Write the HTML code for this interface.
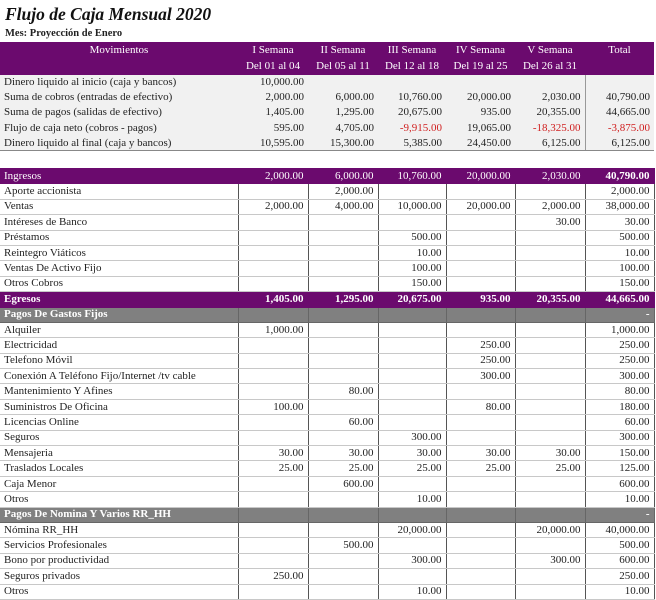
<!DOCTYPE html>
<html><head><meta charset="utf-8"><style>
*{margin:0;padding:0;box-sizing:border-box}
body{width:656px;height:600px;background:#fff;font-family:"Liberation Serif",serif;font-size:11px;color:#222;position:relative;overflow:hidden}
.t{position:absolute;left:5px;top:4px;font-size:17.5px;font-style:italic;font-weight:bold;color:#111}
.m{position:absolute;left:5px;top:28px;font-size:10.5px;font-weight:bold}
table{position:absolute;left:0;border-collapse:collapse;table-layout:fixed;width:654px}
td{padding:0 4px;white-space:nowrap;overflow:hidden;text-align:right;line-height:13px;vertical-align:middle}
td:first-child{text-align:left}
#h{top:42px}
#h td{background:#6b0a6e;color:#fff;text-align:center;height:16.5px}
#s{top:75px}
#s td{background:#f1f1f1;height:15.2px}
#s td:nth-child(6){border-right:1px solid #999}
#s tr:last-child td{border-bottom:1px solid #888}
#d{top:168px}
#d td{height:15.4px;border:1px solid #c8c8c8;border-left:1px solid #555;border-right:1px solid #555}
#d td:first-child{border-left:none}
#d tr.p td{background:#6b0a6e;color:#fff;border-color:#6b0a6e}
#d tr.p td:last-child{font-weight:bold}
#d tr.g td{background:#808080;color:#fff;font-weight:bold;border-color:#666}
.r{color:#d02020}
</style></head><body>
<div class="t">Flujo de Caja Mensual 2020</div>
<div class="m">Mes: Proyección de Enero</div>
<table id="h"><colgroup><col style="width:238px"><col style="width:70px"><col style="width:70px"><col style="width:68px"><col style="width:69px"><col style="width:70px"><col style="width:69px"></colgroup>
<tr><td style="text-align:center">Movimientos</td><td>I Semana</td><td>II Semana</td><td>III Semana</td><td>IV Semana</td><td>V Semana</td><td>Total</td></tr>
<tr><td></td><td>Del 01 al 04</td><td>Del 05 al 11</td><td>Del 12 al 18</td><td>Del 19 al 25</td><td>Del 26 al 31</td><td></td></tr>
</table>
<table id="s"><colgroup><col style="width:238px"><col style="width:70px"><col style="width:70px"><col style="width:68px"><col style="width:69px"><col style="width:70px"><col style="width:69px"></colgroup>
<tr><td>Dinero liquido al inicio (caja y bancos)</td><td>10,000.00</td><td></td><td></td><td></td><td></td><td></td></tr>
<tr><td>Suma de cobros (entradas de efectivo)</td><td>2,000.00</td><td>6,000.00</td><td>10,760.00</td><td>20,000.00</td><td>2,030.00</td><td>40,790.00</td></tr>
<tr><td>Suma de pagos (salidas de efectivo)</td><td>1,405.00</td><td>1,295.00</td><td>20,675.00</td><td>935.00</td><td>20,355.00</td><td>44,665.00</td></tr>
<tr><td>Flujo de caja neto (cobros - pagos)</td><td>595.00</td><td>4,705.00</td><td class="r">-9,915.00</td><td>19,065.00</td><td class="r">-18,325.00</td><td class="r">-3,875.00</td></tr>
<tr><td>Dinero liquido al final (caja y bancos)</td><td>10,595.00</td><td>15,300.00</td><td>5,385.00</td><td>24,450.00</td><td>6,125.00</td><td>6,125.00</td></tr>
</table>
<table id="d"><colgroup><col style="width:238px"><col style="width:70px"><col style="width:70px"><col style="width:68px"><col style="width:69px"><col style="width:70px"><col style="width:69px"></colgroup>
<tr class="p"><td>Ingresos</td><td>2,000.00</td><td>6,000.00</td><td>10,760.00</td><td>20,000.00</td><td>2,030.00</td><td>40,790.00</td></tr>
<tr><td>Aporte accionista</td><td></td><td>2,000.00</td><td></td><td></td><td></td><td>2,000.00</td></tr>
<tr><td>Ventas</td><td>2,000.00</td><td>4,000.00</td><td>10,000.00</td><td>20,000.00</td><td>2,000.00</td><td>38,000.00</td></tr>
<tr><td>Intéreses de Banco</td><td></td><td></td><td></td><td></td><td>30.00</td><td>30.00</td></tr>
<tr><td>Préstamos</td><td></td><td></td><td>500.00</td><td></td><td></td><td>500.00</td></tr>
<tr><td>Reintegro Viáticos</td><td></td><td></td><td>10.00</td><td></td><td></td><td>10.00</td></tr>
<tr><td>Ventas De Activo Fijo</td><td></td><td></td><td>100.00</td><td></td><td></td><td>100.00</td></tr>
<tr><td>Otros Cobros</td><td></td><td></td><td>150.00</td><td></td><td></td><td>150.00</td></tr>
<tr class="p" style="font-weight:bold"><td>Egresos</td><td>1,405.00</td><td>1,295.00</td><td>20,675.00</td><td>935.00</td><td>20,355.00</td><td>44,665.00</td></tr>
<tr class="g"><td>Pagos De Gastos Fijos</td><td></td><td></td><td></td><td></td><td></td><td>-</td></tr>
<tr><td>Alquiler</td><td>1,000.00</td><td></td><td></td><td></td><td></td><td>1,000.00</td></tr>
<tr><td>Electricidad</td><td></td><td></td><td></td><td>250.00</td><td></td><td>250.00</td></tr>
<tr><td>Telefono Móvil</td><td></td><td></td><td></td><td>250.00</td><td></td><td>250.00</td></tr>
<tr><td>Conexión A Teléfono Fijo/Internet /tv cable</td><td></td><td></td><td></td><td>300.00</td><td></td><td>300.00</td></tr>
<tr><td>Mantenimiento Y Afines</td><td></td><td>80.00</td><td></td><td></td><td></td><td>80.00</td></tr>
<tr><td>Suministros De Oficina</td><td>100.00</td><td></td><td></td><td>80.00</td><td></td><td>180.00</td></tr>
<tr><td>Licencias Online</td><td></td><td>60.00</td><td></td><td></td><td></td><td>60.00</td></tr>
<tr><td>Seguros</td><td></td><td></td><td>300.00</td><td></td><td></td><td>300.00</td></tr>
<tr><td>Mensajeria</td><td>30.00</td><td>30.00</td><td>30.00</td><td>30.00</td><td>30.00</td><td>150.00</td></tr>
<tr><td>Traslados Locales</td><td>25.00</td><td>25.00</td><td>25.00</td><td>25.00</td><td>25.00</td><td>125.00</td></tr>
<tr><td>Caja Menor</td><td></td><td>600.00</td><td></td><td></td><td></td><td>600.00</td></tr>
<tr><td>Otros</td><td></td><td></td><td>10.00</td><td></td><td></td><td>10.00</td></tr>
<tr class="g"><td>Pagos De Nomina Y Varios RR_HH</td><td></td><td></td><td></td><td></td><td></td><td>-</td></tr>
<tr><td>Nómina RR_HH</td><td></td><td></td><td>20,000.00</td><td></td><td>20,000.00</td><td>40,000.00</td></tr>
<tr><td>Servicios Profesionales</td><td></td><td>500.00</td><td></td><td></td><td></td><td>500.00</td></tr>
<tr><td>Bono por productividad</td><td></td><td></td><td>300.00</td><td></td><td>300.00</td><td>600.00</td></tr>
<tr><td>Seguros privados</td><td>250.00</td><td></td><td></td><td></td><td></td><td>250.00</td></tr>
<tr><td>Otros</td><td></td><td></td><td>10.00</td><td></td><td></td><td>10.00</td></tr>
</table>
</body></html>
